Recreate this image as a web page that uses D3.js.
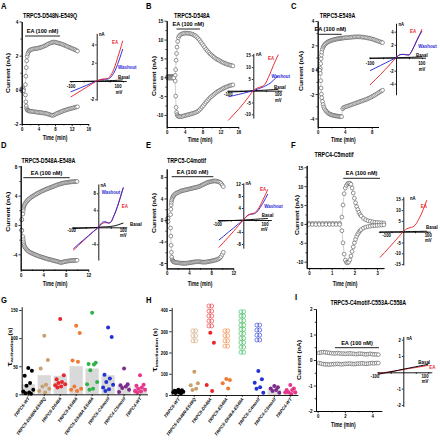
<!DOCTYPE html>
<html><head><meta charset="utf-8">
<script src="https://cdn.jsdelivr.net/npm/d3@7"></script>
<style>body{margin:0;background:#fff}svg{display:block}</style>
</head><body><script>
// ================= DATA =================
const eaText = 'EA (100 nM)';
const titleA = 'TRPC5-D548N-E549Q', titleB = 'TRPC5-D548A', titleC = 'TRPC5-E549A',
      titleD = 'TRPC5-D548A-E549A', titleE = 'TRPC5-C4motif', titleF = 'TRPC4-C5motif',
      titleI = 'TRPC5-C4motif-C553A-C558A';

// Panel A time course
const tA = [0,0.1,0.2,0.3,0.4,0.9,1.0,1.1,1.2,1.3,1.45,1.6,1.8,2.0,2.3,2.6,2.9,3.2,3.5,3.8,4.1,4.4,4.7,5.0,5.3,5.6,5.9,6.2,6.5,6.8,7.1,7.4,7.7,8.0,8.3,8.6,8.9,9.2,9.5,9.8,10.1,10.4,10.7,11.0,11.3,11.6,11.9,12.2,12.5,12.8,13.1,13.4];
const upA = [0.05,0.05,0.05,0.05,0.05,0.3,0.8,1.3,1.7,1.95,2.1,2.2,2.28,2.33,2.36,2.38,2.4,2.41,2.42,2.43,2.45,2.47,2.49,2.52,2.55,2.58,2.62,2.66,2.7,2.73,2.76,2.78,2.8,2.79,2.77,2.75,2.73,2.71,2.69,2.66,2.63,2.6,2.57,2.54,2.5,2.47,2.44,2.41,2.38,2.35,2.31,2.27];
const loA = [-0.05,-0.05,-0.05,-0.05,-0.05,-0.3,-0.7,-0.95,-1.1,-1.17,-1.2,-1.22,-1.24,-1.25,-1.26,-1.27,-1.28,-1.29,-1.3,-1.31,-1.32,-1.33,-1.34,-1.35,-1.36,-1.37,-1.39,-1.41,-1.43,-1.46,-1.48,-1.5,-1.48,-1.44,-1.4,-1.37,-1.34,-1.31,-1.28,-1.25,-1.22,-1.2,-1.17,-1.15,-1.13,-1.11,-1.09,-1.07,-1.05,-1.03,-1.01,-0.99];
const eaA = [0.8, 9.2];
const xTicksA = [0,4,8,12,16], yTicksA = [-2,0,2,4];

// Panel B
const tB = [0.2,0.4,0.6,0.8,1.0,1.2,1.4,1.6,1.9,2.0,2.1,2.2,2.3,2.45,2.6,2.8,3.1,3.4,3.7,4.0,4.3,4.6,4.9,5.2,5.5,5.8,6.1,6.4,6.7,7.0,7.3,7.6,7.9,8.2,8.5,8.8,9.1,9.4,9.7,10.0,10.3,10.6,10.9,11.2,11.5,11.8,12.1,12.4,12.7,13.0,13.3,13.6,13.9,14.2,14.5,14.8];
const upB = [0.2,0.2,0.2,0.2,0.2,0.2,0.2,0.2,0.5,2.0,4.5,6.3,8.0,9.5,10.5,11.0,11.3,11.5,11.6,11.7,11.7,11.7,11.65,11.6,11.5,11.4,11.2,11.0,10.7,10.3,9.9,9.4,8.9,8.4,7.9,7.4,7.0,6.6,6.2,5.9,5.6,5.3,5.0,4.8,4.6,4.4,4.2,4.0,3.85,3.7,3.55,3.4,3.3,3.2,3.1,3.0];
const loB = [-0.2,-0.2,-0.2,-0.2,-0.2,-0.2,-0.2,-0.2,-1.0,-5.0,-8.0,-9.3,-9.9,-10.2,-10.4,-10.45,-10.45,-10.4,-10.3,-10.2,-10.1,-10.0,-9.9,-9.8,-9.7,-9.6,-9.5,-9.35,-9.2,-9.0,-8.7,-8.3,-7.9,-7.5,-7.0,-6.6,-6.2,-5.8,-5.4,-5.1,-4.8,-4.5,-4.2,-3.95,-3.7,-3.5,-3.3,-3.1,-2.9,-2.75,-2.6,-2.45,-2.3,-2.2,-2.1,-2.0];
const eaB = [2.2, 7.45];
const xTicksB = [0,4,8,12,16], yTicksB = [-10,-5,0,5,10,15];

// Panel C
const tC = [0.1,0.2,0.3,0.4,0.45,0.5,0.55,0.6,0.7,0.8,0.9,1.0,1.15,1.3,1.45,1.6,1.75,1.9,2.05,2.2,2.35,2.5,2.65,2.8,2.95,3.1,3.25,3.4,3.55,3.7,3.85,4.0,4.2,4.4,4.6,4.8,5.0,5.2,5.4,5.6,5.8,6.0,6.2,6.4,6.6,6.8,7.0,7.2,7.4,7.6,7.8,8.0,8.2,8.4,8.6,8.8,9.0,9.2,9.4,9.6];
const upC = [0.05,0.05,0.05,0.1,0.5,0.9,1.2,1.45,1.7,1.85,1.95,2.05,2.12,2.2,2.26,2.31,2.35,2.38,2.41,2.44,2.46,2.48,2.5,2.52,2.54,2.55,2.57,2.58,2.59,2.6,2.61,2.62,2.63,2.64,2.65,2.66,2.67,2.68,2.69,2.7,2.7,2.7,2.7,2.69,2.68,2.67,2.65,2.63,2.61,2.59,2.56,2.53,2.5,2.46,2.42,2.38,2.34,2.3,2.26,2.22];
const loC = [-0.05,-0.05,-0.05,-0.3,-0.9,-1.5,-2.0,-2.3,-2.6,-2.85,-3.05,-3.2,-3.33,-3.43,-3.51,-3.58,-3.63,-3.67,-3.7,-3.73,-3.75,-3.77,-3.79,-3.8,-3.81,-3.82,-3.83,-3.84,-3.85,-3.2,-3.1,-3.07,-3.03,-2.99,-2.95,-2.91,-2.87,-2.83,-2.79,-2.75,-2.71,-2.67,-2.63,-2.59,-2.55,-2.51,-2.47,-2.43,-2.38,-2.33,-2.28,-2.22,-2.16,-2.1,-2.03,-1.96,-1.89,-1.82,-1.75,-1.68];
const eaC = [0.2, 3.55];
const xTicksC = [0,4,8], yTicksC = [-4,-2,0,2,4];

// Panel D
const tD = [0.15,0.2,0.4,0.45,0.5,0.55,0.6,0.7,0.8,0.95,1.1,1.25,1.4,1.6,1.8,2.0,2.2,2.4,2.6,2.8,3.0,3.2,3.4,3.6,3.8,4.0,4.2,4.4,4.6,4.8,5.0,5.2,5.4,5.6,5.8,6.0,6.2,6.4,6.6,6.8,7.0,7.2,7.4,7.6,7.8,8.0,8.2,8.4,8.6,8.8,9.0,9.2,9.4,9.6,9.8,10.0];
const upD = [0.7,0.75,1.5,2.0,2.3,2.5,2.65,2.8,2.95,3.1,3.25,3.38,3.5,3.62,3.74,3.85,3.95,4.05,4.14,4.23,4.32,4.4,4.48,4.56,4.63,4.7,4.77,4.84,4.9,4.96,5.02,5.08,5.14,5.2,5.26,5.32,5.38,5.44,5.5,5.55,5.6,5.64,5.68,5.72,5.75,5.78,5.81,5.83,5.85,5.87,5.89,5.9,5.91,5.92,5.93,5.94];
const loD = [-0.7,-0.75,-1.6,-2.0,-2.3,-2.55,-2.75,-2.95,-3.1,-3.25,-3.38,-3.5,-3.6,-3.7,-3.78,-3.86,-3.93,-4.0,-4.06,-4.12,-4.18,-4.24,-4.3,-4.35,-4.4,-4.45,-4.5,-4.55,-4.6,-4.64,-4.68,-4.72,-4.76,-4.8,-4.84,-4.88,-4.92,-4.96,-5.0,-5.05,-5.1,-5.12,-5.08,-5.04,-5.0,-4.97,-4.94,-4.92,-4.9,-4.88,-4.86,-4.85,-4.84,-4.83,-4.82,-4.81];
const eaD = [0.46, 8.7];
const xTicksD = [0,4,8,12], yTicksD = [-4,0,4,8];

// Panel E
const tE = [0.15,0.25,0.7,0.75,0.8,0.85,0.9,1.0,1.1,1.2,1.3,1.45,1.6,1.8,2.0,2.2,2.4,2.6,2.8,3.0,3.2,3.4,3.6,3.8,4.0,4.2,4.4,4.6,4.8,5.0,5.2,5.4,5.6,5.8,6.0,6.2,6.4,6.6,6.8,7.0,7.2,7.4,7.6,7.8,8.0,8.2,8.4,8.6,8.8,9.0,9.2,9.4,9.6,9.8,10.0,10.2];
const upE = [0.3,0.3,1.0,2.0,2.8,3.3,3.7,4.0,4.25,4.45,4.6,4.75,4.9,5.0,5.1,5.2,5.3,5.4,5.45,5.5,5.55,5.6,5.65,5.7,5.75,5.8,5.85,5.9,5.95,6.0,6.05,6.1,6.15,6.2,6.3,6.4,6.5,6.6,6.7,6.8,6.9,7.0,7.05,7.1,7.15,7.2,7.25,7.25,7.25,7.2,7.15,7.1,7.0,6.8,6.5,6.2];
const loE = [-0.3,-0.3,-1.5,-3.0,-4.7,-6.0,-6.9,-7.4,-7.6,-7.7,-7.78,-7.85,-7.9,-7.93,-7.96,-7.98,-8.0,-8.02,-8.04,-8.05,-8.05,-8.04,-8.02,-8.0,-7.97,-7.94,-7.9,-7.86,-7.82,-7.8,-7.78,-7.77,-7.76,-7.76,-7.78,-7.8,-7.82,-7.83,-7.84,-7.83,-7.8,-7.76,-7.72,-7.68,-7.64,-7.6,-7.55,-7.5,-7.44,-7.38,-7.3,-7.2,-7.05,-6.8,-6.4,-6.0];
const eaE = [0.9, 8.4];
const xTicksE = [0,4,8,12], yTicksE = [-8,-4,0,4,8];

// Panel F
const tF = [0.0,0.15,0.3,0.45,0.6,0.75,0.9,1.05,1.2,1.35,1.45,1.5,1.55,1.6,1.65,1.7,1.75,1.8,1.85,1.9,1.95,2.0,2.05,2.1,2.15,2.2,2.25,2.3,2.4,2.5,2.6,2.7,2.8,2.9,3.0,3.1,3.2,3.3];
const upF = [0.15,0.15,0.15,0.15,0.15,0.15,0.15,0.15,0.15,0.15,1.8,5.0,8.0,9.5,10.2,10.6,10.8,10.8,10.5,9.5,8.2,6.8,5.6,4.6,3.8,3.1,2.5,2.1,1.5,1.1,0.85,0.7,0.55,0.45,0.4,0.35,0.3,0.25];
const loF = [-0.15,-0.15,-0.15,-0.15,-0.15,-0.15,-0.15,-0.15,-0.15,-0.15,-1.8,-5.0,-8.0,-9.6,-10.2,-10.3,-10.1,-9.5,-8.5,-7.3,-6.1,-5.0,-4.1,-3.3,-2.7,-2.2,-1.8,-1.5,-1.1,-0.85,-0.7,-0.6,-0.5,-0.45,-0.4,-0.35,-0.3,-0.25];
const eaF = [1.51, 3.13];
const xTicksF = [0,1,2,3], yTicksF = [-10,-5,0,5,10,15];

// Panel I
const tI = [0.1,0.25,0.4,0.55,0.7,0.85,1.0,1.15,1.3,1.45,1.6,1.75,1.9,2.05,2.2,2.35,2.5,2.65,2.8,2.95,3.1,3.25,3.4,3.55,3.7,3.85,4.0,4.15,4.3,4.45];
const upI = [0.28,0.3,0.31,0.3,0.29,0.28,0.27,0.26,0.26,0.27,0.26,0.25,0.25,0.24,0.25,0.26,0.25,0.24,0.23,0.24,0.25,0.24,0.23,0.22,0.23,0.24,0.23,0.22,0.22,0.21];
const loI = [-0.12,-0.14,-0.16,-0.17,-0.17,-0.18,-0.17,-0.16,-0.16,-0.15,-0.16,-0.17,-0.16,-0.15,-0.15,-0.14,-0.15,-0.16,-0.15,-0.14,-0.14,-0.13,-0.14,-0.15,-0.14,-0.13,-0.12,-0.13,-0.12,-0.12];
const eaI = [1.27, 4.5];
const xTicksI = [0,2,4], yTicksI = [-2,-1,0,1,2];

// I-V insets (mV vs nA)
const ivV = [-100,-80,-60,-40,-20,0,10,20,30,40,50,60,70,80,90,100];
const ivA_EA    = [-1.75,-1.4,-1.05,-0.7,-0.35,0,0.12,0.2,0.22,0.25,0.45,0.9,1.6,2.5,3.4,4.4];
const ivA_Wash  = [-1.2,-0.95,-0.72,-0.48,-0.24,0,0.1,0.17,0.19,0.2,0.32,0.62,1.1,1.8,2.6,3.5];
const ivA_Basal = [-0.08,-0.06,-0.05,-0.03,-0.02,0,0.01,0.02,0.02,0.03,0.04,0.05,0.06,0.08,0.1,0.12];
const ivB_EA    = [-12.6,-10.3,-8.0,-5.5,-2.8,0,0.8,1.3,1.6,2.0,3.3,5.5,8.0,10.6,13.0,15.3];
const ivB_Wash  = [-2.6,-2.1,-1.6,-1.1,-0.55,0,0.4,0.8,1.2,1.6,2.1,2.7,3.4,4.4,5.4,6.3];
const ivB_Basal = [-0.6,-0.5,-0.4,-0.3,-0.15,0,0.05,0.1,0.15,0.2,0.25,0.3,0.4,0.45,0.5,0.6];
const ivC_EA    = [-4.2,-3.4,-2.6,-1.75,-0.9,0,0.35,0.5,0.5,0.45,0.45,1.0,1.8,2.7,3.5,4.4];
const ivC_Wash  = [-2.0,-1.6,-1.2,-0.8,-0.4,0,0.35,0.5,0.5,0.45,0.4,0.95,1.75,2.6,3.4,4.1];
const ivC_Basal = [-0.1,-0.08,-0.06,-0.04,-0.02,0,0.01,0.02,0.03,0.04,0.05,0.06,0.08,0.1,0.12,0.15];
const ivD_EA    = [-5.4,-4.3,-3.2,-2.1,-1.0,0,0.6,1.0,1.1,1.0,1.2,2.4,3.8,5.5,7.4,9.3];
const ivD_Wash  = [-5.1,-4.0,-3.0,-2.0,-1.0,0,0.8,1.3,1.3,1.0,1.2,2.4,3.8,5.5,7.4,9.4];
const ivD_Basal = [-0.3,-0.25,-0.2,-0.15,-0.1,0,0.05,0.1,0.1,0.15,0.2,0.3,0.4,0.6,0.8,1.0];
const ivE_EA    = [-9.2,-7.4,-5.6,-3.8,-1.9,0,1.0,1.7,2.0,2.2,2.6,3.6,5.0,6.7,8.4,10.2];
const ivE_Wash  = [-6.7,-5.4,-4.0,-2.7,-1.3,0,0.9,1.6,1.9,2.0,2.3,3.1,4.3,5.6,7.1,8.7];
const ivE_Basal = [-0.4,-0.32,-0.24,-0.16,-0.08,0,0.05,0.1,0.15,0.2,0.25,0.3,0.35,0.4,0.45,0.5];
const ivF_EA    = [-12.0,-9.7,-7.3,-4.9,-2.4,0,1.0,1.6,1.9,2.2,3.0,4.6,6.7,9.0,11.7,14.6];
const ivF_Basal = [-0.2,-0.15,-0.1,-0.08,-0.04,0,0.02,0.04,0.06,0.08,0.1,0.12,0.14,0.16,0.18,0.2];
const ivI_Basal = [-0.12,-0.06,0,0.06,0.12,0.19,0.22,0.25,0.28,0.31,0.34,0.37,0.4,0.43,0.46,0.5];
const ivI_EA    = [-0.08,-0.03,0.02,0.07,0.12,0.17,0.2,0.22,0.25,0.27,0.3,0.32,0.35,0.37,0.4,0.42];
const ivYTicksA = [-2,2,4], ivYTicksB = [-10,-5,5,10,15], ivYTicksC = [-4,-2,2,4],
      ivYTicksD = [-4,4,8], ivYTicksE = [-8,-4,4,8,12], ivYTicksF = [-15,-10,-5,5,10,15], ivYTicksI = [-2,-1,1,2];

// G / H dot plots
const categories = ['TRPC5-WT','TRPC5-D548N-E549Q','TRPC5-D548A','TRPC5-E549A','TRPC5-D548A-E549A','TRPC5-C4motif','TRPC4-C5motif','TRPC4-WT'];
const catColors = ['#000000','#c9a06c','#e8262c','#f07a32','#2db34a','#2232d4','#7b2a8e','#e8368c'];
const tauAct = [
  [47,42,33,20,15,8,5,3,2,1],
  [104,61,46,17,14,10,6,3],
  [134,34,27,22,20,18,16,14,12],
  [122,109,60,58,14,10,8,6],
  [145,56,54,53,43,22,18,10,8],
  [119,102,35,28,22,17,12,9,6],
  [46,18,16,14,11,8,4],
  [34,17,15,12,10,8,6,5,3]
];
const tauActMean = [18,34,33,50,46,34,15,12];
const tauInact = [
  [25,22,20,18,16,15,13,12,10,8],
  [110,55,46,30,24],
  [293,246,47,19],
  [75,71,55,31],
  [],
  [113,74,58,36,30,11],
  [42,36,31,24,19,11],
  [47,31,24,24,13,13,13,5]
];
const tauInactOpen = [
  [],
  [302,279,255],
  [419,395,372,348,325],
  [302,279,255,230],
  [392,372,350,329,309,289,267,247,225,201],
  [329,306,282,259],
  [],
  []
];
const tauInactMean = [18,null,null,null,null,null,28,15];
const yTicksG = [0,50,100,150], yTicksH = [0,100,200,300,400];

// ================= DRAWING =================
const FONT = '"Liberation Sans", Arial, Helvetica, sans-serif';
const SX = 0.74;
const RED = '#e8262c', BLUE = '#2a2ad6';
const fmt = d => (d < 0 ? '-' : '') + Math.abs(d);
const svg = d3.select('body').append('svg').attr('width',440).attr('height',440)
  .attr('font-family',FONT).attr('font-weight','bold');
svg.append('rect').attr('width',440).attr('height',440).attr('fill','#fff');

function txt(g, x, y, s, o = {}) {
  const sx = o.sx ?? SX;
  return g.append('text')
    .attr('transform', `translate(${x},${y}) scale(${sx},1)` + (o.rot ? ` rotate(${o.rot})` : ''))
    .attr('font-size', o.size ?? 6).attr('font-family',FONT).attr('font-weight','bold')
    .attr('text-anchor', o.anchor ?? 'start').attr('fill', o.color ?? '#000').text(s);
}
function styleAxis(sel, fs, sx = SX) {
  sel.attr('font-family',FONT);
  sel.select('.domain').attr('stroke','#000').attr('stroke-width',0.9);
  sel.selectAll('.tick line').attr('stroke','#000').attr('stroke-width',0.8);
  sel.selectAll('.tick text').attr('font-size',fs).attr('font-weight','bold').attr('fill','#000')
    .each(function(){
      const t = d3.select(this);
      const x = +t.attr('x') || 0, y = +t.attr('y') || 0;
      t.attr('x',null).attr('y',null).attr('transform',`translate(${x},${y}) scale(${sx},1)`);
    });
}
const mid = a => a.slice(1).map((v,i)=>(v+a[i])/2);

function ivInset(g, L, D) {
  const x = d3.scaleLinear().domain([-100,100]).range([L.x0 - L.hw, L.x0 + L.hw]);
  const y = d3.scaleLinear().domain(L.vext).range([L.y0 - L.vext[0]*L.k, L.y0 - L.vext[1]*L.k]);
  const ax = g.append('g').attr('transform',`translate(0,${L.y0})`)
    .call(d3.axisBottom(x).tickValues([-100,-50,50,100]).tickSize(1.5).tickSizeOuter(0).tickFormat(''));
  styleAxis(ax, 5);
  ax.select('.domain').attr('d', `M${x(-100)-1},0.5H${x(100)+4}`);
  const ay = g.append('g').attr('transform',`translate(${L.x0},0)`)
    .call(d3.axisLeft(y).tickValues(D.yt).tickSize(1.5).tickPadding(1).tickSizeOuter(0).tickFormat(fmt));
  styleAxis(ay, 5, 0.85);
  const line = d3.line().x((d,i)=>x(ivV[i])).y(d=>y(d)).curve(d3.curveMonotoneX);
  D.curves.forEach(c => {
    g.append('path').attr('d', line(c.v)).attr('fill','none').attr('stroke',c.color).attr('stroke-width',0.95);
  });
  txt(g, L.nA[0], L.nA[1], 'nA', {size:5, sx:0.85});
  txt(g, L.m100[0], L.m100[1], '-100', {size:5, sx:0.85, anchor:'middle'});
  txt(g, L.p100[0], L.p100[1], '100', {size:5, sx:0.85, anchor:'middle'});
  txt(g, L.mV[0], L.mV[1], 'mV', {size:5, sx:0.85, anchor:'middle'});
  L.labels.forEach(l => txt(g, l.x, l.y, l.s, {size:5.4, sx:0.82, color:l.color, anchor:l.anchor || 'start'}));
}

function timePanel(L, D) {
  const g = svg.append('g');
  const x = d3.scaleLinear().domain(D.xd).range(L.xr);
  const y = d3.scaleLinear().domain(D.yd).range(L.yr);
  [D.up, D.lo].forEach(vals => {
    const pts = D.t.map((t,i)=>[t, vals[i]]).filter(p => p[1] !== undefined);
    g.append('path').attr('d', d3.line().x(p=>x(p[0])).y(p=>y(p[1]))(pts))
      .attr('fill','none').attr('stroke','#a0a0a0').attr('stroke-width',0.5);
    g.append('g').selectAll('circle').data(pts).join('circle')
      .attr('cx',p=>x(p[0])).attr('cy',p=>y(p[1])).attr('r',1.9)
      .attr('fill','#fff').attr('stroke','#505050').attr('stroke-width',0.6);
  });
  const gx = g.append('g').attr('transform',`translate(0,${L.yr[0]})`);
  styleAxis(gx.append('g').call(d3.axisBottom(x).tickValues(mid(D.xt)).tickSize(1.3).tickSizeOuter(0).tickFormat('')), 6);
  styleAxis(gx.append('g').call(d3.axisBottom(x).tickValues(D.xt).tickSize(2.2).tickPadding(0.5).tickSizeOuter(0).tickFormat(fmt)), 5.8);
  const gy = g.append('g').attr('transform',`translate(${L.xr[0]},0)`);
  styleAxis(gy.append('g').call(d3.axisLeft(y).tickValues(mid(D.yt)).tickSize(1.3).tickSizeOuter(0).tickFormat('')), 6);
  styleAxis(gy.append('g').call(d3.axisLeft(y).tickValues(D.yt).tickSize(2.2).tickPadding(1.2).tickSizeOuter(0).tickFormat(fmt)), 6.2);
  // EA bar
  g.append('line').attr('x1',x(D.ea[0])).attr('x2',x(D.ea[1])).attr('y1',L.eaY).attr('y2',L.eaY)
    .attr('stroke','#222').attr('stroke-width',1);
  txt(g, (x(D.ea[0])+x(D.ea[1]))/2, L.eaY - 3, eaText, {size:6.2, sx:0.9, anchor:'middle'});
  txt(g, L.letter[0], L.letter[1], L.L, {size:9, sx:0.85});
  txt(g, L.title[0], L.title[1], D.title, {size:7.2, anchor:'middle'});
  txt(g, L.xlab[0], L.xlab[1], 'Time (min)', {size:6.6, anchor:'middle'});
  txt(g, L.ylab[0] + 2, L.ylab[1], 'Current (nA)', {size:6.8, anchor:'middle', rot:-90});
  ivInset(g, L.inset, D.iv);
}

function tauLabel(g, x, y, sub) {
  const t = g.append('text').attr('transform',`translate(${x},${y}) scale(${SX},1) rotate(-90)`)
    .attr('text-anchor','middle').attr('font-family',FONT).attr('font-weight','bold');
  t.append('tspan').attr('font-size',10).text('τ');
  t.append('tspan').attr('font-size',5.3).attr('dy',2).text(sub);
  t.append('tspan').attr('font-size',6.5).attr('dy',-2).text(' (s)');
}

const jit = [0,3.6,-3.6,1.8,-1.8,5,-5,0.9,-2.7,2.7,-4.3,4.3];
function dotPanel(L, D) {
  const g = svg.append('g');
  const x = d3.scaleBand().domain(categories).range(L.xr).paddingInner(0.17).paddingOuter(0.085);
  const y = d3.scaleLinear().domain(D.yd).range(L.yr);
  const bw = x.bandwidth();
  categories.forEach((c,i) => {
    if (D.mean[i] != null)
      g.append('rect').attr('x',x(c)).attr('y',y(D.mean[i])).attr('width',bw).attr('height',y(0)-y(D.mean[i])).attr('fill','#d9d9d9');
  });
  categories.forEach((c,i) => {
    const cx = x(c) + bw/2;
    (D.open ? D.open[i] : []).forEach(v => {
      [-1.4, 1.4].forEach(o => g.append('circle').attr('cx',cx+o).attr('cy',y(v)).attr('r',2)
        .attr('fill','none').attr('stroke',catColors[i]).attr('stroke-width',0.6));
    });
    g.append('g').selectAll('circle').data(D.vals[i]).join('circle')
      .attr('cx',(v,k)=>cx + jit[k % jit.length]).attr('cy',v=>y(v)).attr('r',2).attr('fill',catColors[i]);
  });
  const ay = g.append('g').attr('transform',`translate(${L.axX},0)`)
    .call(d3.axisLeft(y).tickValues(D.yt).tickSize(2.5).tickPadding(1.2).tickSizeOuter(0).tickFormat(fmt));
  styleAxis(ay, 5.8);
  ay.select('.domain').attr('d',`M0.5,${L.yr[0]}V${L.yr[1]}`);
  const ax = g.append('g').attr('transform',`translate(0,${L.yr[0]})`)
    .call(d3.axisBottom(x).tickSize(1.8).tickSizeOuter(0).tickFormat(''));
  styleAxis(ax, 5);
  ax.select('.domain').attr('d',`M${L.axX},0.5H${L.xr[1]}`);
  categories.forEach(c => txt(g, x(c) + bw/2 + 1.5, L.yr[0] + 4.5, c, {size:5.2, anchor:'end', rot:-45}));
  txt(g, L.letter[0], L.letter[1], L.L, {size:9, sx:0.85});
  tauLabel(g, L.ylab[0], L.ylab[1], D.sub);
}

// ---- layouts ----
timePanel({L:'A', letter:[1,8.5], title:[50,17.5], xlab:[55,140], ylab:[8,73], xr:[21.7,88.3], yr:[124,21.5], eaY:36,
  inset:{x0:96.7,y0:81,hw:26,k:9.15,vext:[-2.1,5.2],nA:[99,36],m100:[71,88],p100:[118,88],mV:[119,94],
    labels:[{s:'EA',x:115,y:44,color:RED,anchor:'middle'},{s:'Washout',x:118,y:69,color:BLUE},{s:'Basal',x:118,y:79,color:'#000'}]}},
  {title:titleA, t:tA, up:upA, lo:loA, ea:eaA, xd:[0,16], yd:[-2,4], xt:xTicksA, yt:yTicksA,
   iv:{yt:ivYTicksA, curves:[{v:ivA_Basal,color:'#000'},{v:ivA_Wash,color:BLUE},{v:ivA_EA,color:RED}]}});

timePanel({L:'B', letter:[146,8.5], title:[192,17.5], xlab:[200,141.5], ylab:[153.5,76], xr:[166.7,238.3], yr:[127,20.7], eaY:29,
  inset:{x0:253.3,y0:90.7,hw:25,k:2.36,vext:[-11.6,15.8],nA:[256,56],m100:[228.3,96],p100:[278.3,96],mV:[278.3,101.5],
    labels:[{s:'EA',x:268,y:60,color:RED},{s:'Washout',x:271.5,y:78.3,color:BLUE},{s:'Basal',x:274,y:89,color:'#000'}]}},
  {title:titleB, t:tB, up:upB, lo:loB, ea:eaB, xd:[0,16], yd:[-13.2,15], xt:xTicksB, yt:yTicksB,
   iv:{yt:ivYTicksB, curves:[{v:ivB_Basal,color:'#000'},{v:ivB_Wash,color:BLUE},{v:ivB_EA,color:RED}]}});

timePanel({L:'C', letter:[291,8.5], title:[337.5,17.5], xlab:[343.3,141.5], ylab:[300.5,71], xr:[317.7,378.5], yr:[127,21], eaY:34.3,
  inset:{x0:396,y0:57.7,hw:26,k:6.5,vext:[-5.7,5.3],nA:[398.5,26],m100:[370,65],p100:[421.7,65],mV:[422,71],
    labels:[{s:'EA',x:410,y:32.5,color:RED},{s:'Washout',x:418.3,y:47.5,color:BLUE},{s:'Basal',x:416,y:57,color:'#000'}]}},
  {title:titleC, t:tC, up:upC, lo:loC, ea:eaC, xd:[0,9], yd:[-4.7,4], xt:xTicksC, yt:yTicksC,
   iv:{yt:ivYTicksC, curves:[{v:ivC_Basal,color:'#000'},{v:ivC_EA,color:RED},{v:ivC_Wash,color:BLUE}]}});

timePanel({L:'D', letter:[1,147.5], title:[48.5,162.7], xlab:[55,285.5], ylab:[8,211.7], xr:[20.7,88.3], yr:[269.7,165.6], eaY:177.7,
  inset:{x0:98.3,y0:227.3,hw:25,k:4.25,vext:[-7.7,10.2],nA:[100.5,186.5],m100:[71.7,231.7],p100:[123.3,231.7],mV:[123.3,237.3],
    labels:[{s:'Washout',x:101.7,y:194,color:BLUE},{s:'EA',x:121.7,y:207.7,color:RED},{s:'Basal',x:130,y:226,color:'#000'}]}},
  {title:titleD, t:tD, up:upD, lo:loD, ea:eaD, xd:[0,12], yd:[-6.1,8.1], xt:xTicksD, yt:yTicksD,
   iv:{yt:ivYTicksD, curves:[{v:ivD_Basal,color:'#000'},{v:ivD_EA,color:RED},{v:ivD_Wash,color:BLUE}]}});

timePanel({L:'E', letter:[146,147.5], title:[186.5,162.7], xlab:[200,285.5], ylab:[153.5,213], xr:[166.7,233.3], yr:[268.4,168.9], eaY:176.7,
  inset:{x0:243.3,y0:220,hw:24.5,k:3,vext:[-9.4,12.4],nA:[245.5,185],m100:[217.7,226],p100:[265,226],mV:[264.3,231],
    labels:[{s:'EA',x:260,y:191,color:RED},{s:'Washout',x:264.3,y:208.3,color:BLUE},{s:'Basal',x:261.7,y:217.3,color:'#000'}]}},
  {title:titleE, t:tE, up:upE, lo:loE, ea:eaE, xd:[0,12], yd:[-9,9.5], xt:xTicksE, yt:yTicksE,
   iv:{yt:ivYTicksE, curves:[{v:ivE_Basal,color:'#000'},{v:ivE_Wash,color:BLUE},{v:ivE_EA,color:RED}]}});

timePanel({L:'F', letter:[291,147.5], title:[334,156.7], xlab:[345,285.5], ylab:[297,215], xr:[306.7,383.9], yr:[268.1,165.4], eaY:178.3,
  inset:{x0:403.3,y0:231.7,hw:23.5,k:2.16,vext:[-15.4,16.2],nA:[410,200],m100:[386.7,236.7],p100:[428.3,236.7],mV:[428.3,241.7],
    labels:[{s:'EA',x:420.7,y:207.7,color:RED},{s:'Basal',x:426,y:229.3,color:'#000'}]}},
  {title:titleF, t:tF, up:upF, lo:loF, ea:eaF, xd:[-0.1,3.3], yd:[-11.7,15.5], xt:xTicksF, yt:yTicksF,
   iv:{yt:ivYTicksF, curves:[{v:ivF_Basal,color:'#000'},{v:ivF_EA,color:RED}]}});

timePanel({L:'I', letter:[295,300], title:[368.3,305], xlab:[343.3,427], ylab:[298.5,360], xr:[316,381.7], yr:[411,309], eaY:347.7,
  inset:{x0:403.3,y0:372.3,hw:25,k:16.3,vext:[-2.1,2.2],nA:[406.5,340],m100:[375,378.3],p100:[425,378.3],mV:[425,383.3],
    labels:[{s:'Basal',x:418.3,y:364,color:'#000'},{s:'EA',x:429.3,y:369.3,color:RED}]}},
  {title:titleI, t:tI, up:upI, lo:loI, ea:eaI, xd:[-0.12,4.7], yd:[-2,2], xt:xTicksI, yt:yTicksI,
   iv:{yt:ivYTicksI, curves:[{v:ivI_EA,color:RED},{v:ivI_Basal,color:'#000'}]}});

dotPanel({L:'G', letter:[1,303], ylab:[12,347], xr:[20.3,148], yr:[394.3,307.2], axX:21.7},
  {vals:tauAct, mean:tauActMean, yd:[0,155], yt:yTicksG, sub:'activation'});
dotPanel({L:'H', letter:[146,303], ylab:[157,350], xr:[170.3,298.3], yr:[395,307.9], axX:171.7},
  {vals:tauInact, open:tauInactOpen, mean:tauInactMean, yd:[0,410], yt:yTicksH, sub:'inactivation'});
</script></body></html>
